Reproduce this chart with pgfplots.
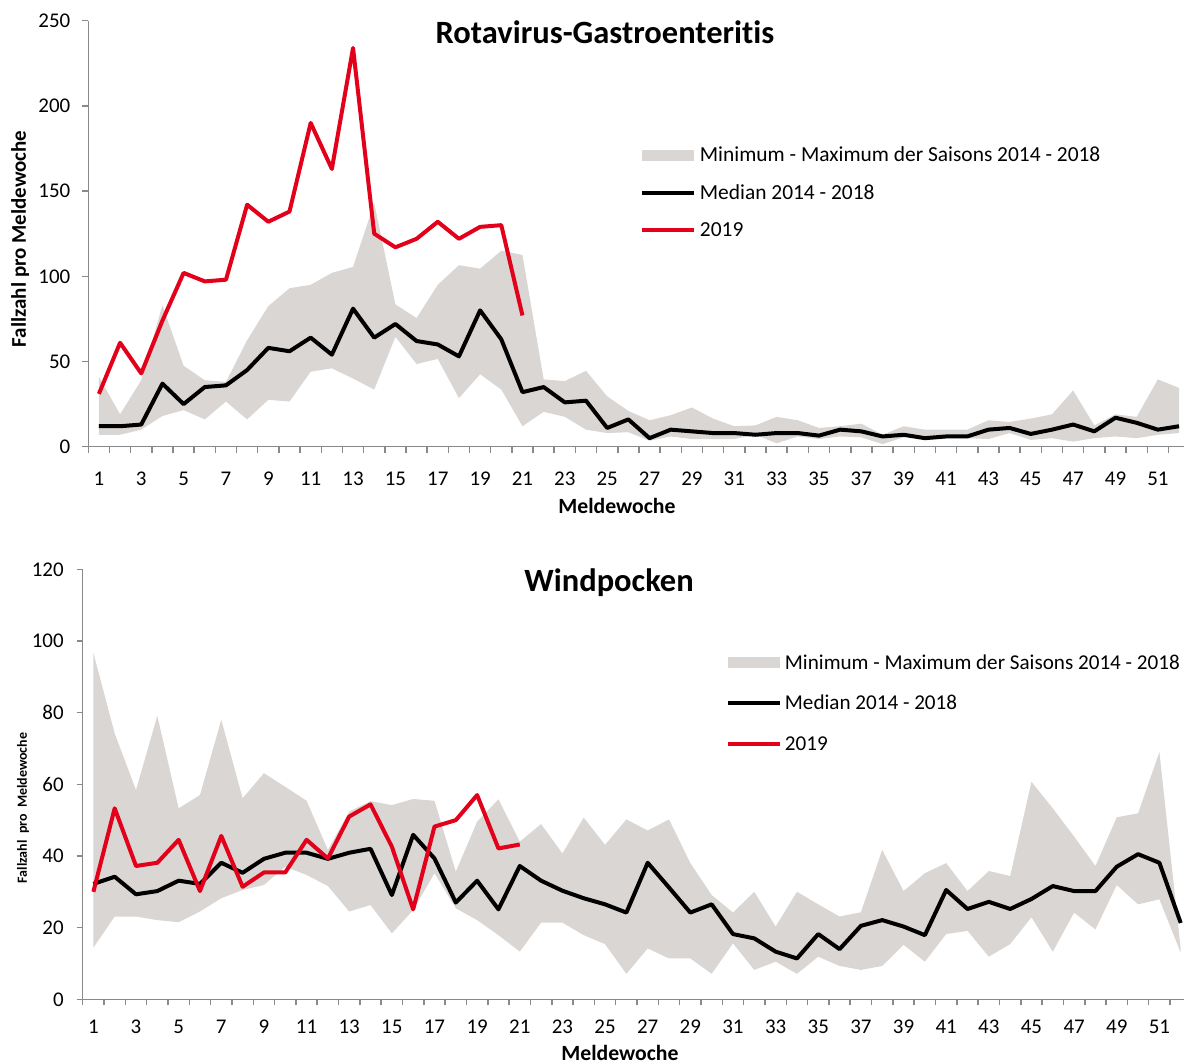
\documentclass[border=0pt]{standalone}
\usepackage{fontspec}
\setmainfont{Carlito}[Ligatures=NoCommon]
\usepackage{pgfplots}
\pgfplotsset{compat=1.18}
\usepackage{pgfplotstable}
\usepgfplotslibrary{fillbetween}
\definecolor{band}{RGB}{217,214,212}
\definecolor{rkired}{RGB}{226,0,26}
\definecolor{axgrey}{RGB}{137,137,137}

\pgfplotstableread{
w lo hi med
1 7 41 12
2 7 19 12
3 10 39 13
4 18 83 37
5 21.5 47.5 25
6 16 39 35
7 26.5 38 36
8 16 62.5 45
9 27.5 82.5 58
10 26.5 93 56
11 44 95 64
12 46 102 54
13 40 105.5 81
14 33.5 143 64
15 64.5 83.5 72
16 48.5 75.5 62
17 51.5 95 60
18 28.5 106.5 53
19 42.5 104.5 80
20 33.5 115 63
21 12 112.5 32
22 20.5 39.5 35
23 17.5 38.5 26
24 10 44.5 27
25 8 29.5 11
26 8.5 21 16
27 3.5 15.5 5
28 6 18.5 10
29 4.5 23 9
30 4.5 16.5 8
31 4.5 12 8
32 7 12.5 7
33 2 17.5 8
34 6 15.5 8
35 4.5 11 6.5
36 6 12 10
37 5.5 13.5 9
38 1.5 7 6
39 5.5 12 7
40 4.5 10 5
41 5 10 6
42 5 10 6
43 4.5 15.5 10
44 8 14.5 11
45 4 16.5 7.5
46 5 19 10
47 3 33 13
48 5 12.5 9
49 6 19 17
50 5 17.5 14
51 7 39.5 10
52 8 34.5 12
}\rota

\pgfplotstableread{
w y
1 31
2 61
3 43
4 74
5 102
6 97
7 98
8 142
9 132
10 138
11 190
12 163
13 234
14 125
15 117
16 122
17 132
18 122
19 129
20 130
21 77
}\rotaneu

\pgfplotstableread{
w lo hi med
1 14.4 96.7 32.2
2 23.1 74.2 34.2
3 23.1 58.4 29.3
4 22.1 79.1 30.2
5 21.5 53.3 33.1
6 24.5 57 32.2
7 28.2 78 38.1
8 30.5 56.1 35.3
9 31.9 63.1 39.2
10 37 59.3 40.9
11 34.7 55.4 40.9
12 31.6 41.7 39.2
13 24.5 52.4 40.9
14 26.3 55.3 42
15 18.4 54.2 29.1
16 24.9 55.9 45.9
17 35.2 55.4 39.3
18 25.4 35.6 27
19 22.1 49.6 33.1
20 17.9 55.8 25.1
21 13.3 44 37.2
22 21.4 48.9 33.1
23 21.4 40.7 30.3
24 17.9 50.7 28.2
25 15.4 43.1 26.5
26 7.1 50.2 24.2
27 14.2 47.1 38.1
28 11.4 50.2 31.2
29 11.4 38 24.2
30 7.1 29.1 26.5
31 15.6 24.2 18.2
32 8.2 30 17
33 10.5 20.3 13.3
34 7.1 30 11.4
35 11.9 26.5 18.2
36 9.3 23.1 14
37 8.2 24.3 20.5
38 9.3 41.7 22.1
39 15.2 30.2 20.3
40 10.5 35.2 17.9
41 18.2 38 30.5
42 19.1 30.2 25.2
43 11.9 35.8 27.2
44 15.4 34.4 25.2
45 22.9 60.7 28
46 13.3 53.3 31.6
47 24.2 45.4 30.2
48 19.5 37.2 30.2
49 31.9 50.8 37
50 26.5 51.9 40.5
51 27.9 69 38.1
52 13 14 21.3
}\wind

\pgfplotstableread{
w y
1 30
2 53.3
3 37.2
4 38.1
5 44.5
6 30.2
7 45.6
8 31.4
9 35.4
10 35.4
11 44.5
12 39.3
13 51
14 54.4
15 42.6
16 25.1
17 48.2
18 50
19 57
20 42.1
21 43.2
}\windneu

\pgfplotsset{
  rkistyle/.style={
    scale only axis,
    xmin=0.5, ymin=0,
    axis lines*=left,
    axis line style={axgrey, line width=0.75bp},
    tick align=outside,
    major tick length=3bp,
    tick style={axgrey, line width=0.75bp},
    xtick={0.5,1.5,...,52.5},
    xticklabels={},
    extra x ticks={1,3,...,51},
    extra x tick labels={1,3,5,7,9,11,13,15,17,19,21,23,25,27,29,31,33,35,37,39,41,43,45,47,49,51},
    tick label style={font=\fontsize{10.5}{12}\selectfont, text=black},
    /pgf/number format/assume math mode=true,
    legend cell align=left,
    legend style={draw=none, fill=none, inner sep=0pt, outer sep=0pt,
      anchor=west,
      nodes={inner sep=0pt, text height=8.5bp, text depth=2bp}},
    title style={anchor=base, font=\bfseries\fontsize{16.3}{19}\selectfont},
    xlabel style={anchor=base, font=\bfseries\fontsize{10.9}{13}\selectfont},
  },
  bandlegend/.style={legend image code/.code={\fill[band] (0bp,-2.75bp) rectangle (26bp,2.75bp);}},
  linelegend/.style={legend image code/.code={\draw[##1, line width=2bp] (0bp,0bp) -- (26bp,0bp);}},
}

\begin{document}
\begin{tikzpicture}

% ---------- top: Rotavirus ----------
\begin{axis}[rkistyle,
  at={(44.15bp,308.15bp)}, anchor=south west,
  width=547.8bp, height=213bp,
  xmax=52.23, ymax=250,
  ytick={0,50,...,250},
  yticklabel style={xshift=-2.5bp},
  extra x tick style={major tick length=0pt, tick label style={yshift=-9bp}},
  title={Rotavirus-Gastroenteritis},
  title style={at={(axis description cs:0.4716,0.919)}},
  xlabel={Meldewoche},
  xlabel style={at={(axis description cs:0.4825,-0.1563)}},
  ylabel={Fallzahl pro Meldewoche},
  ylabel style={at={(axis description cs:-0.0569,0.4876)}, anchor=base, rotate=0,
    font=\bfseries\fontsize{10.5}{12}\selectfont},
  legend style={at={(axis description cs:0.5035,0.5962)}, row sep=8.3bp,
    column sep=2bp, font=\fontsize{10.75}{12}\selectfont},
]
\addplot[name path=rhi, draw=none, forget plot] table[x=w, y=hi] {\rota};
\addplot[name path=rlo, draw=none, forget plot] table[x=w, y=lo] {\rota};
\addplot[band, draw=none, bandlegend] fill between[of=rhi and rlo];
\addlegendentry{Minimum - Maximum der Saisons 2014 - 2018}
\addplot[black, line width=2bp, line join=round, linelegend] table[x=w, y=med] {\rota};
\addlegendentry{Median 2014 - 2018}
\addplot[rkired, line width=2bp, line join=round, linelegend] table[x=w, y=y] {\rotaneu};
\addlegendentry{2019}
\end{axis}

% ---------- bottom: Windpocken ----------
\begin{axis}[rkistyle,
  at={(41.35bp,31.85bp)}, anchor=south west,
  width=550.6bp, height=215bp,
  xmax=52.15, ymax=120,
  ytick={0,20,...,120},
  yticklabel style={xshift=-3bp},
  extra x tick style={major tick length=0pt, tick label style={yshift=-7bp}},
  title={Windpocken},
  title style={at={(axis description cs:0.478,0.920)}},
  xlabel={Meldewoche},
  xlabel style={at={(axis description cs:0.4879,-0.1418)}},
  ylabel={Fallzahl\ \ pro\ \ Meldewoche},
  ylabel style={at={(axis description cs:-0.0508,0.4449)}, anchor=base, rotate=0,
    font=\bfseries\fontsize{7}{9}\selectfont},
  legend style={at={(axis description cs:0.5841,0.689)}, row sep=9.75bp,
    column sep=1.5bp, font=\fontsize{10.6}{12}\selectfont},
]
\addplot[name path=whi, draw=none, forget plot] table[x=w, y=hi] {\wind};
\addplot[name path=wlo, draw=none, forget plot] table[x=w, y=lo] {\wind};
\addplot[band, draw=none, bandlegend] fill between[of=whi and wlo];
\addlegendentry{Minimum - Maximum der Saisons 2014 - 2018}
\addplot[black, line width=2bp, line join=round, linelegend] table[x=w, y=med] {\wind};
\addlegendentry{Median 2014 - 2018}
\addplot[rkired, line width=2bp, line join=round, linelegend] table[x=w, y=y] {\windneu};
\addlegendentry{2019}
\end{axis}
\pgfresetboundingbox
\useasboundingbox (0,0) rectangle (592bp,531.5bp);
\end{tikzpicture}
\end{document}
